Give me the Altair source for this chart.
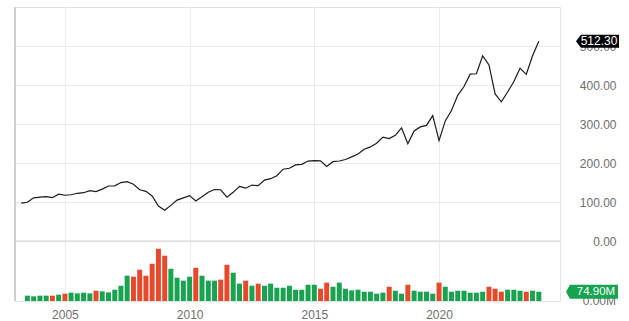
import altair as alt
import pandas as pd

# ---- data ----
price_start = "2003-04-01"          # first quarterly close on the line
prices = [
    97.6, 100.0, 111.3,
    113.1, 114.5, 111.8, 120.9,
    118.0, 119.2, 123.0, 124.5,
    129.8, 127.2, 133.6, 141.6,
    142.0, 150.4, 152.6, 146.2,
    132.0, 128.0, 116.0, 90.2,
    79.5, 92.0, 105.6, 111.4,
    117.0, 103.2, 114.1, 125.8,
    132.6, 132.0, 113.2, 125.5,
    140.8, 136.1, 144.0, 142.4,
    156.7, 160.4, 168.0, 184.7,
    187.0, 195.7, 197.0, 205.5,
    206.4, 205.9, 191.6, 203.9,
    205.6, 209.5, 216.3, 223.5,
    235.7, 241.8, 251.2, 266.9,
    263.2, 271.3, 290.7, 249.9,
    282.5, 293.0, 296.8, 321.9,
    257.8, 308.4, 334.9, 373.9,
    396.3, 428.1, 429.1, 475.0,
    451.6, 377.3, 357.2, 382.4,
    409.4, 443.3, 427.5, 475.3,
    512.3,
]

volume_start = "2003-07-01"         # first volume bar
volumes_m = [
    42.9, 37.6, 42.9, 42.9, 42.9, 51, 59, 67, 61.7, 67,
    61.7, 83, 77.8, 69.8, 91, 123, 204, 196, 252, 204,
    300, 421, 365, 260, 188, 164, 196, 268, 204, 164,
    164, 172, 292, 228, 140, 164, 123, 140, 123, 140,
    107, 107, 123, 91, 91, 131, 131, 99, 148, 115,
    148, 99, 86, 91, 75, 75, 59, 67, 115, 83,
    59, 131, 83, 75, 75, 59, 148, 115, 75, 83,
    83, 67, 67, 75, 115, 99, 75, 91, 91, 83,
    75, 83, 74.9,
]

year_ticks = [2005, 2010, 2015, 2020]
price_ticks = [0, 100, 200, 300, 400, 500]
last_price = 512.30
last_volume = 74.90

# ---- styling ----
FONT = "Arial, Liberation Sans, sans-serif"
GREEN = "#17a34f"
RED = "#e64a2c"
GRID = "#ebebeb"
LABEL = "#6e6e6e"

W, H = 545, 294

price_dates = pd.date_range(price_start, periods=len(prices), freq="QS")
vol_dates = pd.date_range(volume_start, periods=len(volumes_m), freq="QS")

price_df = pd.DataFrame({"date": price_dates.strftime("%Y-%m-%d"), "price": prices})
dirs = ["up" if prices[i + 1] >= prices[i] else "down" for i in range(len(volumes_m))]
vol_df = pd.DataFrame({"date": vol_dates.strftime("%Y-%m-%d"), "volume": volumes_m, "dir": dirs})


def ts(s):
    return int(pd.Timestamp(s).value // 10**6)


x_scale = alt.Scale(domain=[ts("2003-03-15"), ts("2024-08-25")])
x_axis = alt.Axis(
    values=[ts(f"{y}-01-01") for y in year_ticks],
    labelExpr="utcFormat(datum.value, '%Y')",
    grid=True, gridColor=GRID, domain=False, ticks=False,
    labelPadding=8, labelColor=LABEL, labelFontSize=12, labelFont=FONT,
    title=None,
)
X = alt.X("date:T", scale=x_scale, axis=x_axis)

p_scale = alt.Scale(domain=[-152.8, 600], nice=False, zero=False)
v_scale = alt.Scale(domain=[0, 2370], nice=False, zero=False)

price_axis = alt.Axis(
    orient="right", values=price_ticks, format=".2f",
    grid=True, gridColor=GRID, domain=False, ticks=False,
    labelAlign="right", labelPadding=56, labelColor=LABEL,
    labelFontSize=12, labelFont=FONT, title=None, zindex=0,
)

line = alt.Chart(price_df).mark_line(color="#1a1a1a", strokeWidth=1.2).encode(
    x=X, y=alt.Y("price:Q", scale=p_scale, axis=price_axis, title=None)
)

div_df = pd.DataFrame({"price": [0]})
divider = alt.Chart(div_df).mark_rule(color="#e2e2e2", strokeWidth=2).encode(
    y=alt.Y("price:Q", scale=p_scale, axis=price_axis, title=None),
    x=alt.value(0), x2=alt.value(W),
)

tag_df = pd.DataFrame({"price": [last_price], "t": [f"{last_price:.2f}"]})
tag_shape = "M -1 0 L -0.77 -0.3 L 1 -0.3 L 1 0.3 L -0.77 0.3 Z"
price_tag = alt.Chart(tag_df).mark_point(
    shape=tag_shape, filled=True, fill="#000000", strokeWidth=0, size=1849, opacity=1
).encode(x=alt.value(582.5), y=alt.Y("price:Q", scale=p_scale, axis=price_axis, title=None))
price_tag_text = alt.Chart(tag_df).mark_text(
    color="white", fontSize=12, font=FONT, align="center", baseline="middle"
).encode(x=alt.value(584), y=alt.Y("price:Q", scale=p_scale, axis=price_axis, title=None), text="t:N")

price_layer = alt.layer(line, divider, price_tag, price_tag_text)

bars = alt.Chart(vol_df).mark_bar(size=5).encode(
    x=X,
    y=alt.Y("volume:Q", scale=v_scale, axis=None),
    color=alt.Color("dir:N", scale=alt.Scale(domain=["up", "down"], range=[GREEN, RED]), legend=None),
)

zero_df = pd.DataFrame({"volume": [0], "t": ["0.00M"]})
zero_label = alt.Chart(zero_df).mark_text(
    color=LABEL, fontSize=12, font=FONT, align="right", baseline="middle"
).encode(x=alt.value(601), y=alt.Y("volume:Q", scale=v_scale, axis=None), text="t:N")

vtag_df = pd.DataFrame({"volume": [last_volume], "t": [f"{last_volume:.2f}M"]})
vtag_shape = "M -1 0 L -0.85 -0.27 L 1 -0.27 L 1 0.27 L -0.85 0.27 Z"
vol_tag = alt.Chart(vtag_df).mark_point(
    shape=vtag_shape, filled=True, fill=GREEN, strokeWidth=0, size=2704, opacity=1
).encode(x=alt.value(577), y=alt.Y("volume:Q", scale=v_scale, axis=None))
vol_tag_text = alt.Chart(vtag_df).mark_text(
    color="white", fontSize=11.5, font=FONT, align="center", baseline="middle"
).encode(x=alt.value(581), y=alt.Y("volume:Q", scale=v_scale, axis=None), text="t:N")

left_edge = alt.Chart(vtag_df).mark_rule(color="#c4c4c4", strokeWidth=1.5).encode(
    x=alt.value(0), y=alt.value(0), y2=alt.value(H)
)

volume_layer = alt.layer(bars, zero_label, vol_tag, vol_tag_text, left_edge)

chart = (
    alt.layer(price_layer, volume_layer)
    .resolve_scale(y="independent")
    .properties(
        width=W, height=H, autosize="none",
        padding={"left": 15, "top": 7, "right": 69, "bottom": 20},
        background="white",
    )
    .configure_view(stroke="#e2e2e2")
)

chart.save("out.html", embed_options={"renderer": "svg", "actions": False})
